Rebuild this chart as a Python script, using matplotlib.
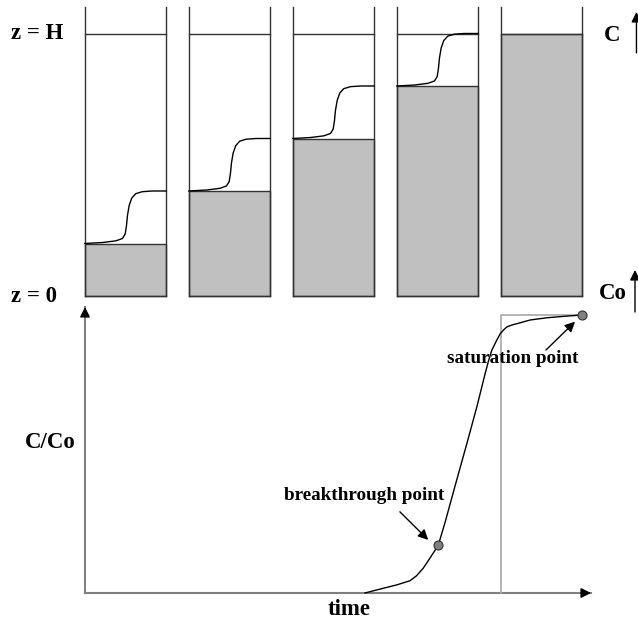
import matplotlib
matplotlib.use("Agg")
import matplotlib.pyplot as plt
import numpy as np

# ---------------- data ----------------
# top: five snapshots of the column, saturated fraction of bed height
column_pos = [0, 1, 2, 3, 4]
bed_saturated = [0.2, 0.4, 0.6, 0.8, 1.0]
column_top = 1.10          # column wall height (z/H)
column_halfwidth = 0.391   # in column-spacing units

# concentration profile across the mass-transfer zone
mtz_frac = [0.0, 0.22, 0.382, 0.463, 0.496, 0.512, 0.524, 0.545, 0.577, 0.626, 0.707, 0.829, 1.0]
mtz_rise = [0.0, 0.019, 0.051, 0.096, 0.179, 0.340, 0.532, 0.724, 0.865, 0.949, 0.987, 1.0, 1.0]

# bottom: breakthrough curve (t normalised by stoichiometric time)
bt_time = [0.673, 0.709, 0.749, 0.781, 0.797, 0.813, 0.829, 0.849, 0.865, 0.889,
           0.918, 0.942, 0.952, 0.962, 0.970, 0.978, 0.990, 0.998, 1.006, 1.014,
           1.026, 1.046, 1.070, 1.110, 1.158, 1.195]
bt_conc = [0.0, 0.014, 0.029, 0.044, 0.062, 0.089, 0.125, 0.171, 0.251, 0.382,
           0.538, 0.670, 0.730, 0.790, 0.835, 0.874, 0.910, 0.932, 0.946, 0.957,
           0.964, 0.972, 0.982, 0.990, 0.996, 1.0]
ideal_time = [1.0, 1.0, 1.195]
ideal_conc = [0.0, 1.0, 1.0]
breakthrough_pt = (0.849, 0.171)
saturation_pt = (1.195, 1.0)

FONT = ["Liberation Serif", "DejaVu Serif"]
W, H = 638, 619
fig = plt.figure(figsize=(W / 100, H / 100), dpi=100)

# ---------------- top panel ----------------
ax1 = fig.add_axes([0, 0, 1, 1])
ax1.set_xlim((0 - 125.5) / 104, (W - 125.5) / 104)
ax1.set_ylim((296 - H) / 262.5, 296 / 262.5)
ax1.axis("off")

edge = "#333333"
ax1.bar(column_pos, bed_saturated, width=2 * column_halfwidth, bottom=0,
        color="#c0c0c0", edgecolor=edge, linewidth=1.0, zorder=1)
for i, p in enumerate(column_pos):
    l, r = p - column_halfwidth, p + column_halfwidth
    ax1.plot([l, l], [0, column_top], color=edge, lw=1.0, zorder=2)
    ax1.plot([r, r], [0, column_top], color=edge, lw=1.0, zorder=2)
    ax1.plot([l, r], [0, 0], color=edge, lw=1.0, zorder=2)
    ax1.plot([l, r], [1.0, 1.0], color=edge, lw=1.0, zorder=2)
    if i < len(column_pos) - 1:
        lo, hi = bed_saturated[i], bed_saturated[i + 1]
        xs = [l + f * (r - l) for f in mtz_frac]
        zs = [lo + c * (hi - lo) for c in mtz_rise]
        ax1.plot(xs, zs, color="black", lw=1.0, zorder=3)

big = dict(fontfamily=FONT, fontweight="bold", fontsize=16.5)
ax1.text(-1.101, 1.0, "z = H", ha="left", va="center", **big)
ax1.text(-1.101, 0.0, "z = 0", ha="left", va="center", **big)
ax1.text(4.675, 0.994, "C", ha="center", va="center", **big)
ax1.text(4.688, 0.011, "Co", ha="center", va="center", **big)
arrow_k = dict(arrowstyle="-|>", color="black", lw=1.0, mutation_scale=15,
               shrinkA=0, shrinkB=0)
ax1.annotate("", xy=(4.913, 1.082), xytext=(4.913, 0.926), arrowprops=arrow_k)
ax1.annotate("", xy=(4.899, 0.099), xytext=(4.899, -0.061), arrowprops=arrow_k)

# ---------------- bottom panel ----------------
ax2 = fig.add_axes([85 / W, (H - 593) / H, (591 - 85) / W, (593 - 307) / H])
ax2.set_xlim(0, 506 / 416)
ax2.set_ylim(0, 286 / 278)
ax2.axis("off")
ax2.patch.set_alpha(0)

gray = "#808080"
ax2.plot([0, 1], [0, 0], transform=ax2.transAxes, color=gray, lw=1.5, clip_on=False)
ax2.plot([0, 0], [0, 1], transform=ax2.transAxes, color=gray, lw=1.5, clip_on=False)
head = dict(arrowstyle="-|>", color="black", lw=1.0, mutation_scale=15,
            shrinkA=0, shrinkB=0)
ax2.annotate("", xy=(1, 0), xytext=(0.98, 0), xycoords="axes fraction",
             textcoords="axes fraction", arrowprops=head)
ax2.annotate("", xy=(0, 1), xytext=(0, 0.97), xycoords="axes fraction",
             textcoords="axes fraction", arrowprops=head)

ax2.plot(ideal_time, ideal_conc, color="#a8a8a8", lw=1.2, clip_on=False)
ax2.plot(bt_time, bt_conc, color="black", lw=1.0, clip_on=False)
for pt in (breakthrough_pt, saturation_pt):
    ax2.plot(*pt, marker="o", ms=6.5, mfc="#7f7f7f", mec="#333333", mew=0.8,
             clip_on=False, zorder=5)

small = dict(fontfamily=FONT, fontweight="bold", fontsize=13.8)
ax2.text(0.671, 0.349, "breakthrough point", ha="center", va="center", **small)
ax2.text(1.028, 0.842, "saturation point", ha="center", va="center", **small)
ax2.annotate("", xy=(0.825, 0.191), xytext=(0.757, 0.292), arrowprops=arrow_k)
ax2.annotate("", xy=(1.178, 0.976), xytext=(1.108, 0.874), arrowprops=arrow_k)

ax2.text(-0.084, 0.543, "C/Co", ha="center", va="center", **big)
ax2.text(0.636, -0.061, "time", ha="center", va="center", **big)

fig.savefig("out.png", dpi=100)
